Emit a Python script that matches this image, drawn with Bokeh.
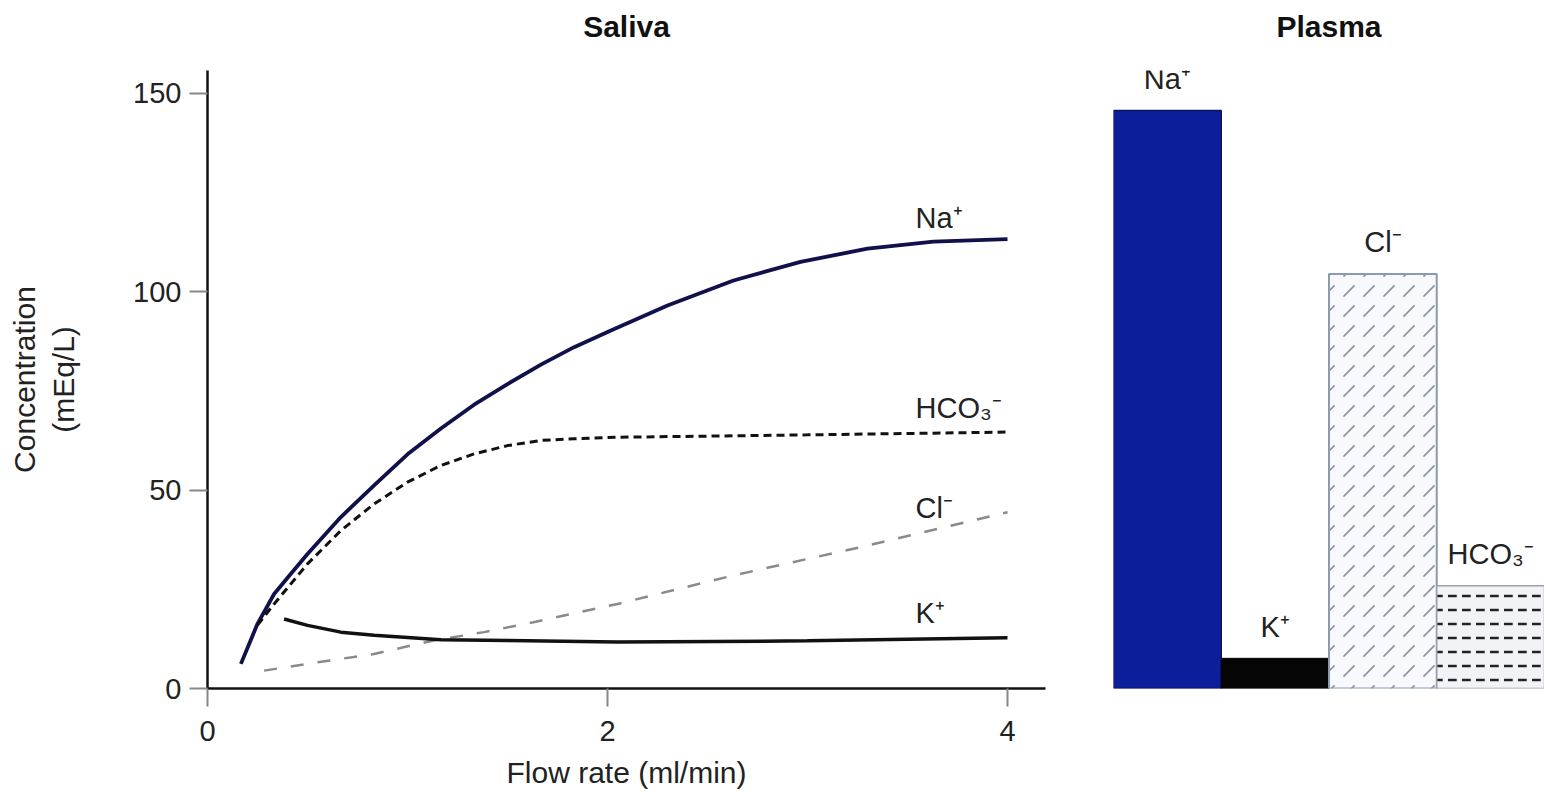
import numpy as np
from bokeh.plotting import figure
from bokeh.layouts import row
from bokeh.models import Range1d, FixedTicker, ColumnDataSource, LinearAxis
from bokeh.core.properties import value
from bokeh.embed import file_html
from bokeh.resources import INLINE

# ---------------- data ----------------
# Saliva: concentration (mEq/L) vs flow rate (ml/min)
na_flow = [0.167, 0.25, 0.333, 0.417, 0.5, 0.667, 0.833, 1.0, 1.167, 1.333, 1.5, 1.667,
           1.833, 2.017, 2.30, 2.63, 2.965, 3.30, 3.63, 4.0]
na_conc = [6.2, 16.3, 23.8, 28.9, 33.9, 43.2, 51.2, 59.0, 65.5, 71.5, 76.7, 81.6,
           86.0, 90.2, 96.5, 102.8, 107.5, 110.8, 112.6, 113.2]

hco3_flow = [0.25, 0.333, 0.5, 0.667, 0.833, 1.0, 1.167, 1.333, 1.5, 1.667, 1.833, 2.05, 3.0, 4.0]
hco3_conc = [16.0, 21.3, 31.4, 39.8, 46.5, 52.0, 56.2, 59.1, 61.2, 62.5, 62.9, 63.3, 63.9, 64.6]

cl_flow = [0.283, 0.55, 0.833, 1.13, 1.383, 1.63, 2.05, 2.63, 3.30, 4.0]
cl_conc = [4.5, 6.6, 8.7, 12.1, 14.2, 16.7, 21.3, 28.5, 36.0, 44.4]

k_flow = [0.383, 0.5, 0.667, 0.833, 1.167, 1.5, 2.05, 3.0, 4.0]
k_conc = [17.5, 15.9, 14.2, 13.4, 12.3, 12.1, 11.7, 12.0, 12.8]

x_ticks = [0, 2, 4]
y_ticks = [0, 50, 100, 150]

# Plasma concentrations (mEq/L)
plasma_ions = ["Na⁺", "K⁺", "Cl⁻", "HCO₃⁻"]
plasma_conc = [145.6, 7.6, 104.4, 25.9]

FONT = "Liberation Sans"
Y_MAX = 155.7
FRAME_H = 618
TOP = 70
BOTTOM = 112


def add_heading(p, text, bounds):
    """Panel heading drawn as the label of a tick-less axis above the frame."""
    ax = LinearAxis(ticker=FixedTicker(ticks=[]), bounds=bounds,
                    axis_line_color=None, major_tick_line_color=None,
                    minor_tick_line_color=None, major_tick_out=0, major_tick_in=0,
                    major_label_standoff=0, axis_label=text,
                    axis_label_standoff=28, axis_label_text_font=FONT,
                    axis_label_text_font_size="30px", axis_label_text_font_style="bold",
                    axis_label_text_color="#111111")
    p.add_layout(ax, "above")


# ---------------- Saliva panel ----------------
p1 = figure(frame_width=838, frame_height=FRAME_H,
            min_border_left=207, min_border_right=53,
            min_border_top=TOP, min_border_bottom=BOTTOM,
            x_range=Range1d(0, 4.19), y_range=Range1d(0, Y_MAX),
            output_backend="svg", toolbar_location=None)
p1.outline_line_color = None
p1.grid.visible = False
p1.background_fill_color = "white"
p1.border_fill_color = "white"

for ax in (p1.xaxis[0], p1.yaxis[0]):
    ax.axis_line_width = 2.5
    ax.axis_line_color = "#111111"
    ax.major_tick_line_color = "#888888"
    ax.major_tick_line_width = 2
    ax.major_tick_out = 18
    ax.major_tick_in = 0
    ax.minor_tick_line_color = None
    ax.major_label_text_font = FONT
    ax.major_label_text_font_size = "29px"
    ax.major_label_text_color = "#222222"
    ax.axis_label_text_font = FONT
    ax.axis_label_text_font_size = "30px"
    ax.axis_label_text_font_style = "normal"
    ax.axis_label_text_color = "#222222"

p1.xaxis.ticker = FixedTicker(ticks=x_ticks)
p1.yaxis.ticker = FixedTicker(ticks=y_ticks)
p1.xaxis.major_label_standoff = 14
p1.yaxis.major_label_standoff = 8
p1.xaxis.axis_label = "Flow rate (ml/min)"
p1.xaxis.axis_label_standoff = 12
p1.yaxis.axis_label = "Concentration\n(mEq/L)"
p1.yaxis.axis_label_standoff = 50

add_heading(p1, "Saliva", (0, 3.99))

p1.line(na_flow, na_conc, line_color="#10104a", line_width=3.8)
p1.line(hco3_flow, hco3_conc, line_color="#111111", line_width=3, line_dash="8 5")
p1.line(cl_flow, cl_conc, line_color="#8a8a8a", line_width=2.5, line_dash="13 14")
p1.line(k_flow, k_conc, line_color="#111111", line_width=3.5)

label_x = 3.54
series = [("Na⁺", na_flow, na_conc), ("HCO₃⁻", hco3_flow, hco3_conc),
          ("Cl⁻", cl_flow, cl_conc), ("K⁺", k_flow, k_conc)]
lab_src = ColumnDataSource(dict(
    x=[label_x] * len(series),
    y=[float(np.interp(label_x, fx, cy)) + 6.5 for _, fx, cy in series],
    t=[s[0] for s in series]))
p1.text(x="x", y="y", text="t", source=lab_src, text_font=value(FONT),
        text_font_size="29px", text_color="#222222",
        text_align="left", text_baseline="alphabetic")

# ---------------- Plasma panel ----------------
p2 = figure(frame_width=431, frame_height=FRAME_H,
            min_border_left=15, min_border_right=0,
            min_border_top=TOP, min_border_bottom=BOTTOM,
            x_range=Range1d(-0.5, 3.5), y_range=Range1d(0, Y_MAX),
            x_axis_location=None, y_axis_location=None,
            output_backend="svg", toolbar_location=None)
p2.outline_line_color = None
p2.grid.visible = False
p2.background_fill_color = "white"
p2.border_fill_color = "white"

add_heading(p2, "Plasma", (-0.5, 3.28))

bar_styles = [
    dict(fill_color="#0c1e9a", line_color="#0a1460", line_width=1.5),
    dict(fill_color="#050505", line_color="#050505", line_width=1),
    dict(fill_color="#f7f9fc", line_color="#8a9bb0", line_width=2,
         hatch_pattern=",", hatch_color="#8791a0", hatch_scale=20, hatch_weight=1.6),
    dict(fill_color="#f2f3f6", line_color="#9aa0aa", line_width=1.5,
         hatch_pattern='"', hatch_color="#222222", hatch_scale=14, hatch_weight=2.5),
]
for i, (ion, c) in enumerate(zip(plasma_ions, plasma_conc)):
    src = ColumnDataSource(dict(x=[i], top=[c]))
    p2.vbar(x="x", top="top", bottom=0, width=1, source=src, **bar_styles[i])

bl_src = ColumnDataSource(dict(x=list(range(len(plasma_ions))),
                               y=[c + 8 for c in plasma_conc],
                               t=plasma_ions))
p2.text(x="x", y="y", text="t", source=bl_src, text_font=value(FONT),
        text_font_size="29px", text_color="#222222",
        text_align="center", text_baseline="alphabetic")

layout = row(p1, p2)
open("out.html", "w").write(file_html(layout, INLINE))
